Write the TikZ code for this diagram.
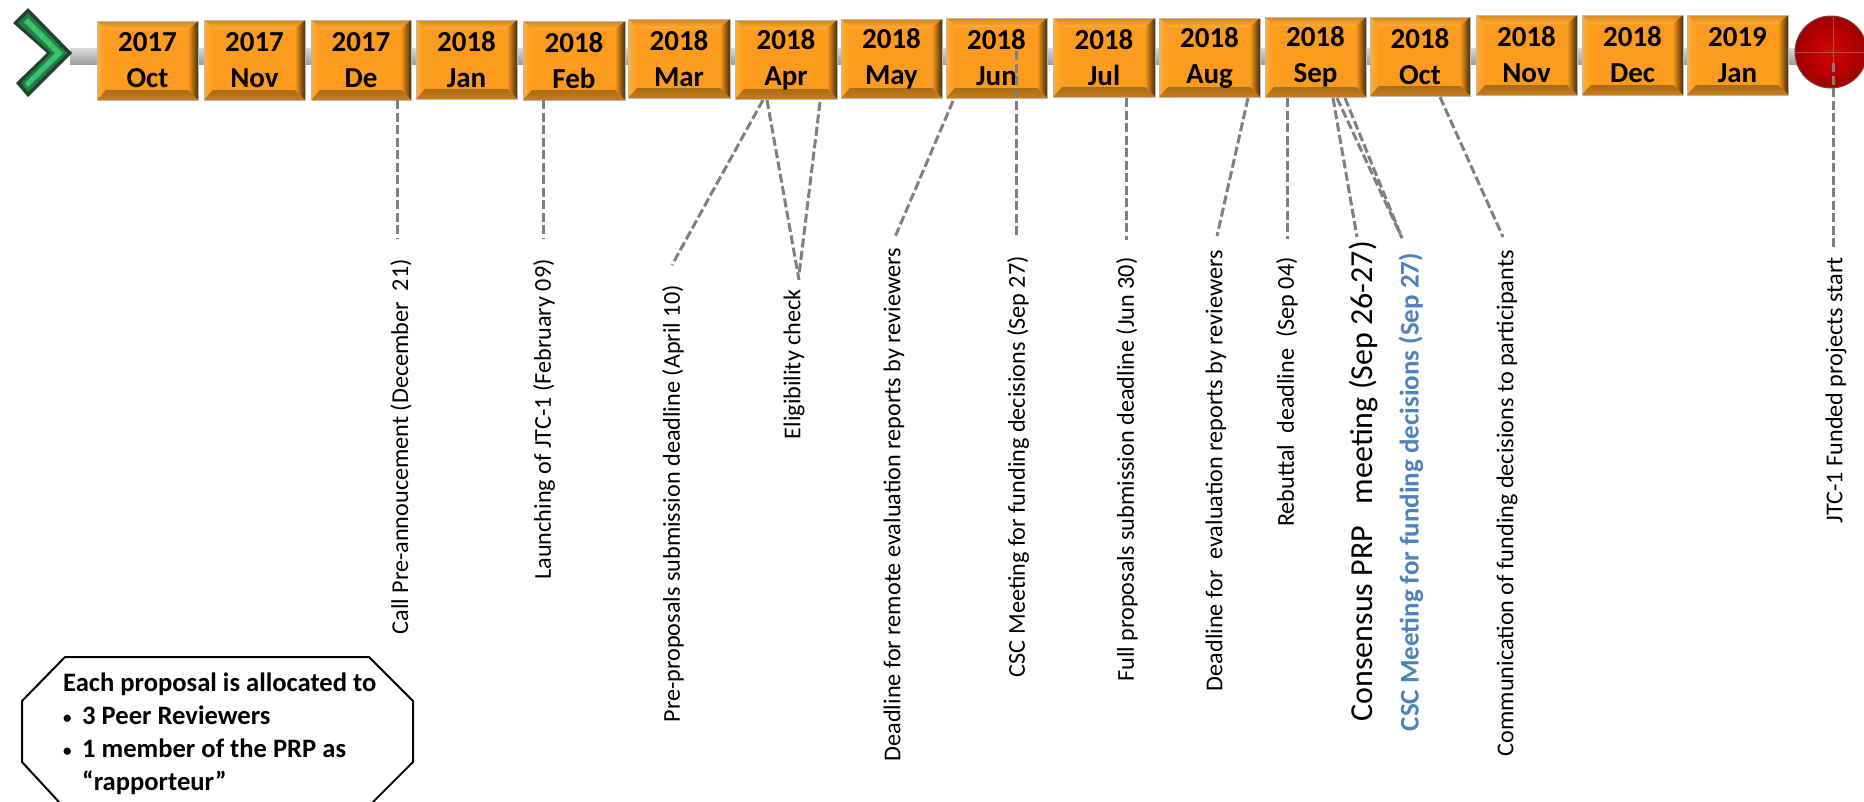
\documentclass[tikz,border=0pt]{standalone}
\usepackage{fontspec}
\setmainfont{Carlito}
\usetikzlibrary{calc}
\definecolor{boxmid}{HTML}{FD9B1F}
\definecolor{boxhi}{HTML}{FFAE33}
\definecolor{boxlo}{HTML}{4A2E08}
\definecolor{boxmd}{HTML}{A86C16}
\definecolor{connc}{HTML}{7F7F7F}
\definecolor{cscblue}{HTML}{4F81BD}
\definecolor{chevdark}{HTML}{24402E}
\definecolor{chevmid}{HTML}{1F8043}
\definecolor{chevhi}{HTML}{3CC070}
\tikzset{
  conn/.style={draw=connc,line width=3pt,dash pattern=on 9pt off 3.5pt},
  lab/.style={rotate=90,anchor=east,inner sep=0pt,font=\fontsize{24.2}{27}\selectfont,text=black},
  boxnode/.style={inner sep=0pt,outer sep=0pt,align=center,font=\fontsize{29}{37}\selectfont\bfseries,text=black},
}
% \bevel{name}{x0}{y0}{x1}{y1}{year}{month}
\newcommand{\bevel}[7]{%
  \def\xa{#2}\def\ya{#3}\def\xb{#4}\def\yb{#5}%
  \fill[boxmid] (\xa,\ya) rectangle (\xb,\yb);
  \shade[top color=boxmid!85!black,bottom color=boxhi] (\xa,\ya) -- (\xb,\ya) -- ({\xb-10},{\ya+9}) -- ({\xa+9},{\ya+9}) -- cycle;
  \shade[left color=boxhi,right color=boxmid] (\xa,\ya) -- ({\xa+9},{\ya+9}) -- ({\xa+9},{\yb-10}) -- (\xa,\yb) -- cycle;
  \shade[left color=boxmid,middle color=boxmd,right color=boxlo] (\xb,\ya) -- ({\xb-10},{\ya+9}) -- ({\xb-10},{\yb-10}) -- (\xb,\yb) -- cycle;
  \shade[top color=boxmd,middle color=boxlo!80!boxmd,bottom color=boxmid!80!black] (\xa,\yb) -- ({\xa+9},{\yb-10}) -- ({\xb-10},{\yb-10}) -- (\xb,\yb) -- cycle;
  \draw[gray!55,line width=1pt] (\xa,\ya) rectangle (\xb,\yb);
  \node[boxnode,minimum width={(\xb-\xa)*1pt},minimum height={(\yb-\ya)*1pt}] (#1) at ({(\xa+\xb)/2},{(\ya+\yb)/2}) {#6\\[-1pt]#7};
}
\newcommand{\nbul}{\makebox[19pt][l]{\raisebox{1pt}{\fontsize{17}{17}\selectfont •}}}
\begin{document}
\begin{tikzpicture}[x=1pt,y=-1pt]
\useasboundingbox (0,0) rectangle (1864,801);
\fill[white] (0,0) rectangle (1864,801);
\clip (0,0) rectangle (1864,801);
% rail
\shade[top color=gray!30,middle color=gray!20,bottom color=gray!75] (70,48) rectangle (1800,64);
% chevron
\path[fill=chevdark] (13,23) -- (28,8) -- (72,53) -- (28,97) -- (16,83) -- (47,53) -- cycle;
\path[fill=chevmid] (18,23) -- (28,13) -- (67,53) -- (28,92) -- (21,83) -- (51,53) -- cycle;
\path[fill=chevhi] (24,22) -- (28,18) -- (63,53) -- (28,87) -- (25,83) -- (55,53) -- cycle;
% ball
\node[circle,minimum size=72pt,inner sep=0pt,draw=black!50!red!50!gray,line width=1pt,shade,inner color=red!85!black,outer color=red!62!black] (ball) at (1831,52) {};
\draw[gray!60!red,line width=1pt] (1795,52) -- (1864,52) (1833,17) -- (1833,64);
% boxes
\bevel{b1}{97}{21}{198}{100}{2017}{Oct}
\bevel{b2}{204}{20}{305}{100}{2017}{Nov}
\bevel{b3}{311}{20}{411}{100}{2017}{De}
\bevel{b4}{416}{20}{517}{99}{2018}{Jan}
\bevel{b5}{523}{21}{625}{100}{2018}{Feb}
\bevel{b6}{628}{19}{730}{98}{2018}{Mar}
\bevel{b7}{735}{20}{837}{99}{2018}{Apr}
\bevel{b8}{841}{19}{942}{98}{2018}{May}
\bevel{b9}{946}{18}{1047}{98}{2018}{Jun}
\bevel{b10}{1053}{18}{1155}{97}{2018}{Jul}
\bevel{b11}{1159}{18}{1260}{97}{2018}{Aug}
\bevel{b12}{1265}{17}{1366}{97}{2018}{Sep}
\bevel{b13}{1370}{17}{1470}{96}{2018}{Oct}
\bevel{b14}{1476}{15}{1577}{95}{2018}{Nov}
\bevel{b15}{1582}{15}{1683}{95}{2018}{Dec}
\bevel{b16}{1687}{15}{1788}{95}{2019}{Jan}
% labels
\node[lab] (l1) at (401,259) {Call Pre-annoucement (December\ \ 21)};
\node[lab] (l2) at (544,259) {Launching of JTC-1 (February\ 09)};
\node[lab] (l3) at (673,285) {Pre-proposals submission deadline (April 10)};
\node[lab] (l4) at (794,289) {Eligibility check};
\node[lab] (l5) at (894,248) {Deadline for remote evaluation reports by reviewers};
\node[lab] (l6) at (1018,256) {CSC Meeting for funding decisions (Sep 27)};
\node[lab] (l7) at (1127,257) {Full proposals submission deadline (Jun 30)};
\node[lab] (l8) at (1216,250) {Deadline for\ \ evaluation reports by reviewers};
\node[lab] (l9) at (1287,257) {Rebuttal\ \ deadline\ \ (Sep 04)};
\node[lab,font=\fontsize{32}{35}\selectfont] (l10) at (1364,241) {Consensus PRP\ \ \ meeting (Sep 26-27)};
\node[lab,font=\fontsize{27}{30}\selectfont\bfseries,text=cscblue] (l11) at (1411,253) {CSC Meeting for funding decisions (Sep 27)};
\node[lab] (l12) at (1507,250) {Communication of funding decisions to participants};
\node[lab] (l13) at (1836,257) {JTC-1 Funded projects start};
% connectors
\draw[conn] ($(b3.south)+(36,0)$) -- ($(l1.east)+(-4,-21)$);
\draw[conn] ($(b5.south)+(-31,0)$) -- ($(l2.east)+(-1,-21)$);
\draw[conn] ($(b7.south)+(-23,1)$) -- ($(l3.east)+(-1,-20)$);
\draw[conn] ($(b7.south)+(-19,1)$) -- ($(l4.east)+(5,-9)$);
\draw[conn] ($(b7.south)+(34,3)$) -- ($(l4.east)+(5,-14)$);
\draw[conn] ($(b8.south)+(61.5,3)$) -- ($(l5.east)+(1,-11)$);
\draw[conn] ($(b9.center)+(19.5,-7)$) -- ($(l6.east)+(-2,-21)$);
\draw[conn] ($(b10.south)+(22,1)$) -- ($(l7.east)+(-1,-17)$);
\draw[conn] ($(b11.south)+(38.5,1)$) -- ($(l8.east)+(1,-14)$);
\draw[conn] ($(b12.south)+(-28.5,1)$) -- ($(l9.east)+(0,-18)$);
\draw[conn] ($(b12.south)+(17.5,1)$) -- ($(l10.east)+(-7,-4)$);
\draw[conn] ($(b12.south)+(21.5,1)$) -- ($(l11.east)+(-9,-15)$);
\draw[conn] ($(b12.south)+(29.5,1)$) -- ($(l11.east)+(-9,-15)$);
\draw[conn] ($(b13.south)+(20,1)$) -- ($(l12.east)+(-4,-13)$);
\draw[conn] ($(ball.center)+(2,11)$) -- ($(l13.east)+(-3,-7)$);
% octagon
\draw[black,line width=2pt] (59,802) -- (22,762) -- (22,701) -- (65,657) -- (369,657) -- (413,701) -- (413,762) -- (373,802);
\node[anchor=west,inner sep=0pt,align=left,font=\fontsize{26.6}{33}\selectfont\bfseries] (note) at (63,734) {Each proposal is allocated to\\\nbul 3 Peer Reviewers\\\nbul 1 member of the PRP as\\\hspace*{19pt}“rapporteur”};
\end{tikzpicture}
\end{document}
